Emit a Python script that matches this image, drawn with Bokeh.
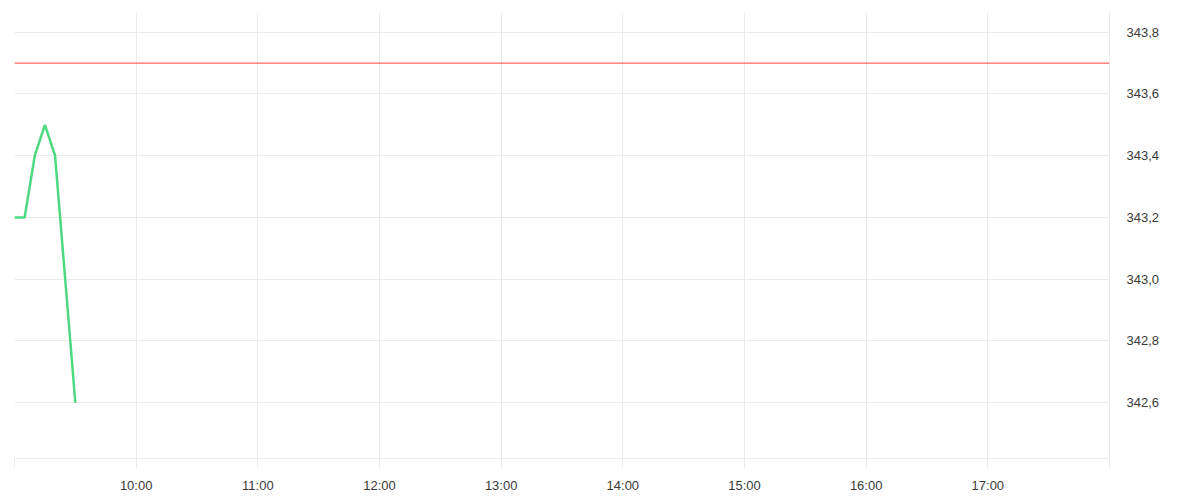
from bokeh.plotting import figure
from bokeh.models import Range1d, FixedTicker, LinearAxis, Span
from bokeh.embed import file_html
from bokeh.resources import INLINE

# ---- data ----
times = ["09:00", "09:05", "09:10", "09:15", "09:20", "09:30"]
prices = [343.2, 343.2, 343.4, 343.5, 343.4, 342.6]
reference_price = 343.7

x_tick_labels = ["09:00", "10:00", "11:00", "12:00", "13:00", "14:00",
                 "15:00", "16:00", "17:00", "18:00"]
x_tick_shown = ["", "10:00", "11:00", "12:00", "13:00", "14:00",
                "15:00", "16:00", "17:00", ""]
y_ticks = [342.6, 342.8, 343.0, 343.2, 343.4, 343.6, 343.8]
y_tick_labels = ["342,6", "342,8", "343,0", "343,2", "343,4", "343,6", "343,8"]

x_start, x_end = "09:00", "18:00"
y_start, y_end = 342.419, 343.864


def to_min(t):
    h, m = t.split(":")
    return int(h) * 60 + int(m)


xs = [to_min(t) for t in times]
x_ticks = [to_min(t) for t in x_tick_labels]

FONT = "Liberation Sans"
TEXT = "#3a3a3a"
GRID = "#ebebeb"

p = figure(frame_width=1095, frame_height=446,
           x_range=Range1d(to_min(x_start), to_min(x_end)),
           y_range=Range1d(y_start, y_end),
           output_backend="svg", toolbar_location=None,
           x_axis_location="below", y_axis_location=None,
           min_border_left=14, min_border_top=12, min_border_right=10,
           min_border_bottom=4)
p.outline_line_color = None
p.background_fill_color = "white"
p.border_fill_color = "white"

# x axis
xa = p.xaxis[0]
xa.ticker = FixedTicker(ticks=x_ticks)
xa.major_label_overrides = {int(t): s for t, s in zip(x_ticks, x_tick_shown)}
xa.axis_line_color = GRID
xa.major_tick_line_color = GRID
xa.major_tick_in = 0
xa.major_tick_out = 9
xa.minor_tick_line_color = None
xa.major_label_standoff = 10
xa.major_label_text_font = FONT
xa.major_label_text_font_size = "13px"
xa.major_label_text_color = TEXT

# right y axis
ya = LinearAxis(ticker=FixedTicker(ticks=y_ticks))
ya.major_label_overrides = {float(t): s for t, s in zip(y_ticks, y_tick_labels)}
ya.axis_line_color = GRID
ya.major_tick_line_color = None
ya.major_tick_in = 0
ya.major_tick_out = 0
ya.minor_tick_line_color = None
ya.major_label_standoff = 17
ya.major_label_text_font = FONT
ya.major_label_text_font_size = "13px"
ya.major_label_text_color = TEXT
p.add_layout(ya, "right")

p.xgrid.ticker = FixedTicker(ticks=x_ticks)
p.xgrid.grid_line_color = GRID
p.ygrid.grid_line_color = GRID
p.ygrid.ticker = FixedTicker(ticks=y_ticks)

p.add_layout(Span(location=reference_price, dimension="width",
                  line_color="#ff3b3b", line_width=1))

p.line(xs, prices, line_color="#4dd97f", line_width=2.5)

open("out.html", "w").write(file_html(p, INLINE))
